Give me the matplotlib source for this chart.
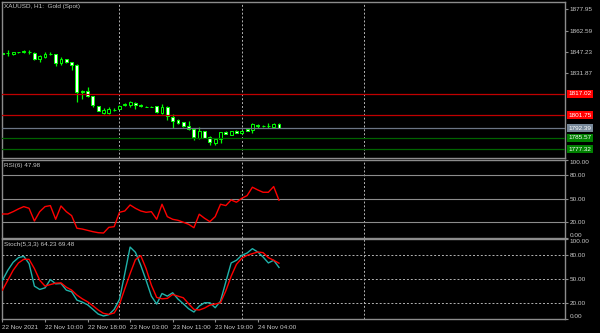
import matplotlib
matplotlib.use("Agg")
import matplotlib.pyplot as plt
import matplotlib.transforms as mtransforms
import numpy as np

# XAUUSD H1 candles (open, high, low, close)
opens = [1846.1, 1846.4, 1845.8, 1846.9, 1847.4, 1847.4, 1846.5, 1842.2, 1843.6, 1845.6,
         1845.6, 1839.3, 1842.2, 1840.0, 1837.9, 1819.4, 1818.8, 1815.5, 1808.4, 1803.3,
         1803.5, 1805.3, 1806.4, 1809.1, 1808.8, 1810.7, 1809.3, 1807.9, 1807.8, 1808.1,
         1803.5, 1807.6, 1800.6, 1798.1, 1796.6, 1794.0, 1792.0, 1785.5, 1790.1, 1786.0,
         1781.9, 1784.4, 1789.4, 1787.7, 1790.6, 1788.9, 1791.8, 1791.3, 1794.9, 1794.1,
         1793.9, 1793.2, 1795.6]
highs = [1846.9, 1848.7, 1847.5, 1847.4, 1849.0, 1848.7, 1846.9, 1845.1, 1847.2, 1847.2,
         1845.8, 1843.6, 1842.5, 1840.2, 1838.6, 1819.9, 1822.3, 1815.8, 1808.6, 1806.9,
         1807.6, 1806.9, 1809.0, 1810.5, 1812.0, 1811.2, 1809.5, 1808.3, 1808.1, 1808.4,
         1809.8, 1808.4, 1802.6, 1799.0, 1797.0, 1797.6, 1792.5, 1793.2, 1790.4, 1786.8,
         1784.6, 1789.6, 1790.3, 1790.6, 1790.9, 1790.9, 1792.0, 1796.1, 1795.4, 1794.7,
         1796.1, 1795.9, 1795.9]
lows = [1845.1, 1844.3, 1845.1, 1846.3, 1846.5, 1845.8, 1841.5, 1840.0, 1842.9, 1845.1,
        1837.2, 1837.9, 1839.5, 1834.3, 1811.1, 1813.4, 1814.6, 1807.6, 1804.8, 1802.6,
        1802.6, 1804.8, 1806.0, 1808.4, 1807.6, 1806.2, 1807.9, 1807.3, 1807.4, 1803.5,
        1802.6, 1798.3, 1792.5, 1795.4, 1793.4, 1791.1, 1783.9, 1784.6, 1785.3, 1780.3,
        1780.3, 1781.7, 1788.2, 1787.5, 1788.9, 1788.5, 1790.3, 1788.9, 1792.5, 1793.2,
        1792.5, 1792.9, 1792.2]
closes = [1846.0, 1846.6, 1846.9, 1847.0, 1847.8, 1847.1, 1842.4, 1844.0, 1845.8, 1846.0,
          1839.5, 1842.2, 1839.8, 1837.9, 1818.6, 1818.4, 1815.2, 1809.1, 1805.0, 1805.5,
          1806.2, 1805.6, 1808.6, 1809.5, 1811.2, 1809.3, 1808.1, 1807.7, 1807.7, 1803.8,
          1807.6, 1801.4, 1797.8, 1796.1, 1793.7, 1791.6, 1786.0, 1790.6, 1785.5, 1782.4,
          1784.4, 1789.4, 1788.4, 1790.4, 1789.1, 1790.6, 1790.6, 1795.4, 1793.9, 1794.0,
          1794.1, 1795.6, 1792.39]

rsi = [30.3, 30.3, 33.3, 36.8, 39.8, 37.6, 21.3, 33.3, 39.8, 41.1,
       23.5, 40.6, 33.3, 28.2, 12.0, 11.0, 9.3, 7.6, 6.3, 5.9,
       13.2, 14.0, 32.5, 34.2, 41.9, 37.6, 34.2, 32.5, 33.3, 23.5,
       42.8, 26.9, 23.5, 22.2, 19.7, 17.1, 12.7, 30.0, 24.8, 20.5,
       26.9, 42.8, 41.1, 48.3, 45.4, 50.5, 53.9, 64.7, 61.2, 58.2,
       58.2, 65.5, 47.98]

stoch_k = [48.4, 60.7, 70.6, 76.4, 78.0, 69.0, 41.0, 36.9, 38.9, 49.2,
           43.9, 44.3, 36.1, 34.0, 23.7, 21.2, 17.9, 12.2, 6.4, 4.0,
           5.6, 12.2, 24.5, 56.6, 89.5, 83.0, 66.9, 48.4, 28.6, 18.8,
           31.9, 28.6, 32.8, 25.0, 19.2, 13.0, 8.9, 16.3, 20.4, 20.4,
           14.2, 22.5, 46.3, 69.8, 73.1, 79.3, 82.1, 87.5, 83.4, 77.2,
           69.8, 73.1, 64.23]
stoch_d = [36.1, 48.4, 60.7, 69.8, 74.3, 74.3, 62.8, 48.4, 41.0, 43.0,
           44.7, 45.1, 39.7, 36.1, 29.9, 25.3, 21.6, 16.7, 11.4, 7.2,
           6.0, 7.7, 18.4, 37.7, 56.6, 73.9, 78.9, 62.8, 42.2, 27.0,
           25.3, 25.8, 30.7, 28.6, 26.6, 19.2, 12.2, 11.4, 13.8, 17.5,
           18.8, 20.4, 35.2, 53.3, 68.1, 75.6, 79.3, 81.3, 83.4, 82.6,
           76.4, 73.1, 69.48]

price_ticks = [1877.95, 1862.59, 1847.23, 1831.87]
levels = [1817.02, 1801.75, 1792.39, 1785.57, 1777.32]
level_colors = ["#c00000", "#c00000", "#6b7585", "#006400", "#006400"]
label_colors = ["#ff0000", "#ff0000", "#778899", "#008000", "#008000"]
osc_ticks = [100, 80, 50, 20, 0]
time_pos = [0, 8, 16, 24, 32, 40, 48]
time_labels = ["22 Nov 2021", "22 Nov 10:00", "22 Nov 18:00", "23 Nov 03:00",
               "23 Nov 11:00", "23 Nov 19:00", "24 Nov 04:00"]
separators = [22, 45, 68]

FS = 4.6
plt.rcParams["font.family"] = ["Liberation Sans", "DejaVu Sans"]
W, H = 600, 333


def px_axes(fig, top, bottom):
    # place an axes using pixel rows of the reference image
    return fig.add_axes([2 / W, 1 - bottom / H, 563 / W, (bottom - top) / H])


def style(ax):
    ax.set_facecolor("black")
    for s in ax.spines.values():
        s.set_color("#8c8c8c")
        s.set_linewidth(1)
    ax.yaxis.tick_right()
    ax.tick_params(axis="y", colors="#8c8c8c", labelcolor="#c8c8c8",
                   labelsize=FS, length=2.5, width=0.8, pad=1)
    ax.set_xlim(-0.094, 105.79)
    for s in separators:
        ax.axvline(s, color="#b4b4b4", lw=0.7, ls=(0, (2, 2)), zorder=1)


fig = plt.figure(figsize=(6, 3.33), dpi=100, facecolor="black")

# main price window
ax = px_axes(fig, 1.5, 158)
style(ax)
ax.set_ylim(1770.91, 1883.59)
ax.set_xticks([])
ax.set_yticks(price_ticks)
ax.set_yticklabels(["%.2f" % v for v in price_ticks])

x = np.arange(len(opens))
o = np.array(opens)
c = np.array(closes)
ax.vlines(x, lows, highs, color="#00ff00", lw=0.9, zorder=2)
body_lo = np.minimum(o, c)
body_h = np.maximum(np.abs(c - o), 0.25)
body_col = ["white" if cc < oo else "black" for oo, cc in zip(o, c)]
ax.bar(x, body_h, bottom=body_lo, width=0.55, color=body_col,
       edgecolor="#00ff00", linewidth=0.7, zorder=2)

btrans = mtransforms.blended_transform_factory(ax.transAxes, ax.transData)
for lv, lc, bc in zip(levels, level_colors, label_colors):
    ax.axhline(lv, color=lc, lw=0.9, zorder=3)
    ax.text(1.006, lv, "%.2f" % lv, transform=btrans, fontsize=FS, color="white",
            va="center", ha="left", clip_on=False,
            bbox=dict(boxstyle="square,pad=0.25", fc=bc, ec="none"))

fig.text(4 / W, 1 - 6.5 / H, "XAUUSD, H1:  Gold (Spot)", color="#c8c8c8",
         fontsize=FS, va="center", ha="left")

# RSI window
ax2 = px_axes(fig, 159.7, 237.6)
style(ax2)
ax2.set_ylim(0, 100)
ax2.set_xticks([])
for lv in [80, 50, 20]:
    ax2.axhline(lv, color="#8c8c8c", lw=0.8, zorder=1)
ax2.plot(x, rsi, color="#ff0000", lw=1.0, zorder=3)
fig.text(4 / W, 1 - 166 / H, "RSI(6) 47.98", color="#c8c8c8",
         fontsize=FS, va="center", ha="left")

# Stochastic window
ax3 = px_axes(fig, 238.6, 319.2)
style(ax3)
ax3.set_ylim(0, 100)
for lv in [80, 50, 20]:
    ax3.axhline(lv, color="#b4b4b4", lw=0.7, ls=(0, (2, 2)), zorder=1)
ax3.plot(x, stoch_k, color="#20b2aa", lw=1.0, zorder=3)
ax3.plot(x, stoch_d, color="#ff0000", lw=1.0, zorder=3)
fig.text(4 / W, 1 - 244.5 / H, "Stoch(5,3,3) 64.23 69.48", color="#c8c8c8",
         fontsize=FS, va="center", ha="left")

ax3.set_xticks(time_pos)
ax3.set_xticklabels(time_labels, ha="left")
ax3.tick_params(axis="x", colors="#8c8c8c", labelcolor="#c8c8c8",
                labelsize=FS, length=2.5, width=0.8, pad=1.5)

for a in (ax2, ax3):
    a.set_yticks(osc_ticks)
    labs = a.set_yticklabels(["%.2f" % v for v in osc_ticks])
    labs[0].set_va("top")
    labs[-1].set_va("bottom")

fig.savefig("out.png", dpi=100, facecolor="black")
